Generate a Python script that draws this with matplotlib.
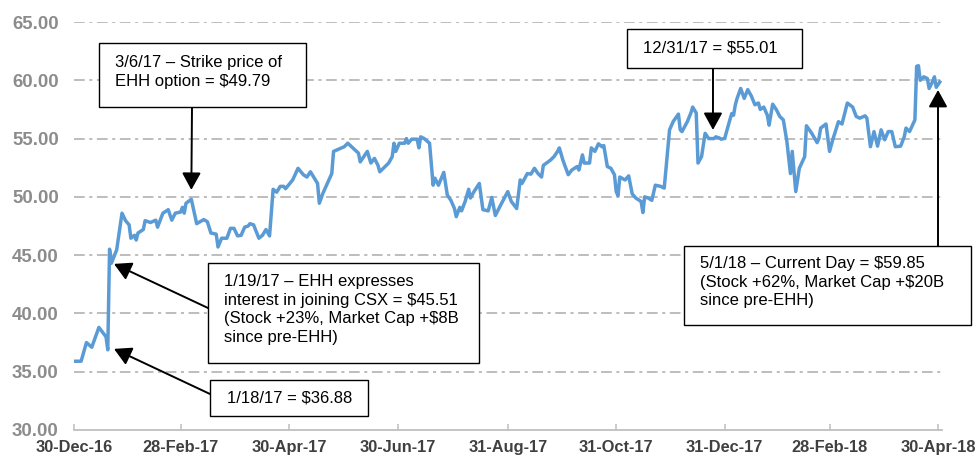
import matplotlib
matplotlib.use("Agg")
import matplotlib.pyplot as plt
import matplotlib.dates as mdates
from matplotlib.patches import Rectangle
import pandas as pd

# CSX share price (days after 30-Dec-16, price in $)
start_date = "2016-12-30"
day_offsets = [
    0, 4, 7, 10, 14, 18, 19, 20, 21, 24, 27, 29, 31, 32, 34, 35, 36, 39, 40, 43,
    46, 47, 50, 53, 55, 57, 60, 61, 62, 63, 66, 69, 73, 75, 77, 80, 81, 83, 86, 88,
    90, 92, 94, 96, 98, 99, 101, 104, 106, 108, 110, 112, 114, 116, 118, 119, 123, 126, 129, 131,
    133, 137, 138, 140, 145, 146, 152, 154, 160, 161, 165, 167, 169, 171, 172, 174, 177, 179, 180, 181,
    183, 186, 187, 188, 190, 193, 194, 195, 197, 200, 202, 203, 205, 208, 210, 212, 214, 215, 217, 218,
    220, 222, 223, 225, 228, 230, 233, 235, 237, 240, 244, 246, 249, 251, 252, 255, 257, 259, 261, 263,
    264, 268, 270, 272, 273, 275, 278, 280, 283, 284, 286, 287, 290, 291, 293, 295, 297, 298, 300, 302,
    304, 305, 306, 307, 310, 312, 314, 316, 319, 320, 321, 323, 325, 327, 330, 332, 335, 337, 340, 341,
    342, 345, 347, 348, 350, 351, 353, 355, 357, 360, 361, 363, 364, 366, 369, 370, 371, 372, 373, 375,
    377, 379, 381, 383, 385, 386, 388, 390, 391, 393, 395, 397, 399, 401, 403, 404, 406, 408, 411, 412,
    415, 418, 419, 420, 423, 425, 427, 430, 432, 435, 438, 440, 442, 445, 446, 448, 450, 452, 454, 456,
    458, 460, 462, 465, 467, 468, 470, 473, 474, 475, 476, 478, 480, 481, 483, 484, 485, 487,
]
prices = [
    35.9, 35.9, 37.5, 37.1, 38.8, 38.0, 36.88, 45.51, 44.3, 45.45, 48.6, 47.96, 47.6, 46.45, 46.7, 46.3, 46.9, 47.2, 47.96, 47.8,
    48.0, 47.4, 48.6, 48.9, 48.0, 48.6, 48.7, 49.1, 48.6, 49.45, 49.79, 47.7, 48.05, 47.87, 46.9, 46.8, 45.7, 46.45, 46.45, 47.3,
    47.3, 46.65, 46.7, 47.4, 47.5, 47.7, 47.6, 46.45, 46.7, 47.2, 46.65, 50.65, 50.4, 50.9, 50.9, 50.7, 51.45, 52.45, 51.9, 51.7,
    52.15, 51.15, 49.45, 50.3, 52.0, 53.9, 54.3, 54.6, 53.75, 53.0, 53.9, 52.9, 53.3, 52.7, 52.15, 52.45, 52.9, 53.45, 54.6, 53.9,
    54.6, 54.6, 55.0, 54.6, 54.95, 54.95, 54.2, 55.15, 55.0, 54.6, 51.0, 51.6, 51.0, 52.1, 50.15, 49.7, 49.0, 48.3, 49.1, 48.8,
    49.6, 50.65, 49.9, 50.45, 51.15, 48.9, 48.8, 49.95, 48.4, 49.3, 50.45, 49.6, 49.0, 51.45, 51.15, 52.0, 51.95, 52.45, 52.0, 51.7,
    52.7, 53.15, 53.45, 53.9, 54.2, 53.15, 51.9, 52.3, 52.6, 52.3, 53.6, 52.9, 52.9, 54.2, 53.9, 54.55, 54.3, 54.4, 52.6, 52.45,
    51.9, 50.45, 50.1, 51.7, 51.45, 51.8, 50.25, 49.9, 49.6, 48.65, 50.0, 49.9, 49.7, 51.0, 50.9, 50.75, 55.75, 56.45, 57.1, 55.75,
    55.6, 56.45, 57.2, 57.7, 57.2, 52.9, 53.45, 55.45, 55.0, 55.0, 55.15, 55.05, 54.95, 55.01, 56.65, 57.15, 57.0, 57.9, 58.45, 59.3,
    58.45, 59.2, 58.65, 57.9, 58.05, 57.5, 57.7, 57.0, 56.15, 57.95, 57.5, 56.9, 56.6, 54.75, 52.0, 53.9, 50.45, 52.45, 53.45, 56.1,
    55.45, 54.65, 55.0, 55.9, 56.25, 53.9, 55.0, 56.45, 56.25, 58.05, 57.7, 56.9, 56.75, 56.95, 56.75, 54.3, 55.6, 54.35, 55.75, 54.9,
    55.6, 55.6, 54.3, 54.35, 55.15, 55.9, 55.6, 56.6, 61.2, 61.25, 60.0, 60.3, 60.15, 59.3, 59.9, 60.3, 59.4, 59.85,
]

tick_dates = ["2016-12-30", "2017-02-28", "2017-04-30", "2017-06-30", "2017-08-31",
              "2017-10-31", "2017-12-31", "2018-02-28", "2018-04-30"]
y_ticks = [30, 35, 40, 45, 50, 55, 60, 65]

# callouts: text, box (left, top, right, bottom in px), text origin px, arrow start px, arrow tip (date, price)
callouts = [
    ("3/6/17 \u2013 Strike price of\nEHH option = \\$49.79",
     (99, 43, 306, 107), (115, 55), (192, 107), ("2017-03-06", 50.6)),
    ("1/19/17 \u2013 EHH expresses\ninterest in joining CSX = \\$45.51\n(Stock +23%, Market Cap +\\$8B\nsince pre-EHH)",
     (208, 263, 479, 363), (224, 274), (208, 308), ("2017-01-21 12:00", 44.25)),
    ("1/18/17 = \\$36.88",
     (210, 380, 368, 416), (227, 391), (210, 394), ("2017-01-21 12:00", 36.96)),
    ("12/31/17 = \\$55.01",
     (627, 29, 802, 68), (643, 41), (713, 68), ("2017-12-24 10:00", 55.74)),
    ("5/1/18 \u2013 Current Day = \\$59.85\n(Stock +62%, Market Cap +\\$20B\nsince pre-EHH)",
     (684, 246, 971, 325), (700, 256), (938, 246), ("2018-04-30", 59.17)),
]

W, H = 977, 458
plt.rcParams["font.family"] = ["Liberation Sans", "DejaVu Sans"]

fig = plt.figure(figsize=(W / 100, H / 100), dpi=100)
ax = fig.add_axes([74 / W, 1 - 430 / H, (942 - 74) / W, (430 - 22) / H])


def fx(px):
    return px / W


def fy(py):
    return 1 - py / H


dates = pd.Timestamp(start_date) + pd.to_timedelta(day_offsets, unit="D")
ax.plot(dates, prices, color="#5B9BD5", lw=2.5, solid_joinstyle="round", zorder=3)

ax.set_ylim(30, 65)
ax.set_xlim(pd.Timestamp(start_date), pd.Timestamp("2018-05-02 06:00"))
ax.set_yticks(y_ticks)
ax.set_yticklabels(["%.2f" % v for v in y_ticks])
ax.set_xticks(pd.to_datetime(tick_dates))
ax.xaxis.set_major_formatter(mdates.DateFormatter("%d-%b-%y"))

for v in y_ticks[1:]:
    ax.axhline(v, color="#ABABAB", lw=1.1, ls=(0, (7, 3, 2, 3)), zorder=1)

for s in ["top", "right", "left"]:
    ax.spines[s].set_visible(False)
ax.spines["bottom"].set_color("#BFBFBF")
ax.spines["bottom"].set_linewidth(1.3)

ax.tick_params(axis="y", length=0, pad=11, labelsize=13.4, labelcolor="#8C8C8C")
ax.tick_params(axis="x", direction="in", length=4, width=1.1, color="#BFBFBF",
               pad=7, labelsize=11.8, labelcolor="#404040")
for lab in ax.get_yticklabels() + ax.get_xticklabels():
    lab.set_fontweight("bold")

for text, box, torg, astart, tip in callouts:
    l, t, r, b = box
    fig.patches.append(Rectangle((fx(l), fy(b)), fx(r - l), (b - t) / H,
                                 transform=fig.transFigure, fill=True, facecolor="white",
                                 edgecolor="black", lw=1.0, zorder=5))
    fig.text(fx(torg[0]), fy(torg[1]), text, ha="left", va="top", fontsize=12,
             color="black", linespacing=1.3, zorder=6)
    ax.annotate("", xy=(pd.Timestamp(tip[0]), tip[1]), xycoords="data",
                xytext=(fx(astart[0]), fy(astart[1])), textcoords="figure fraction",
                arrowprops=dict(arrowstyle="-|>,head_length=0.4,head_width=0.22",
                                color="black", lw=1.4, mutation_scale=26,
                                shrinkA=0, shrinkB=0),
                annotation_clip=False, zorder=6)

fig.savefig("out.png", dpi=100)
